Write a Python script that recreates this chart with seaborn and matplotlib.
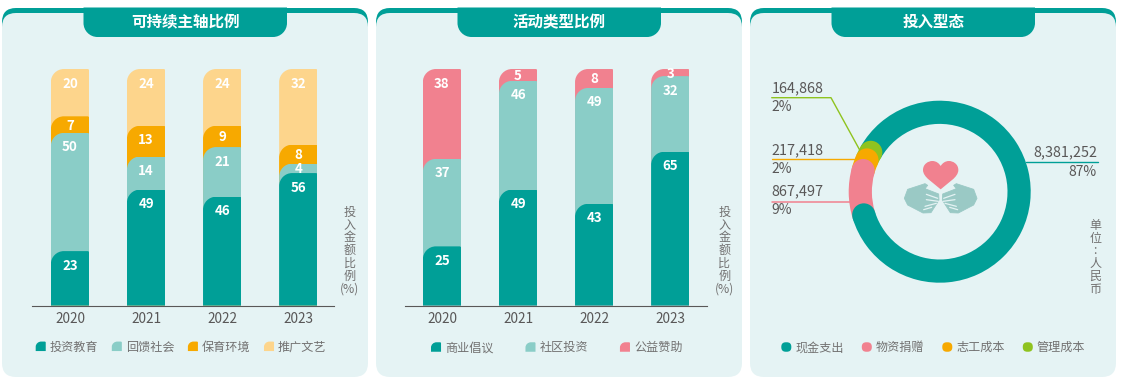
import numpy as np
import matplotlib
matplotlib.use("Agg")
import matplotlib.pyplot as plt
import seaborn as sns
from matplotlib.path import Path
from matplotlib.patches import PathPatch, FancyBboxPatch, Polygon, Circle
from matplotlib.legend_handler import HandlerPatch
from matplotlib.lines import Line2D

# ---------- data ----------
years = ["2020", "2021", "2022", "2023"]

focus_names = ["投资教育", "回馈社会", "保育环境", "推广文艺"]
focus_education = [23, 49, 46, 56]
focus_community = [50, 14, 21, 4]
focus_environment = [7, 13, 9, 8]
focus_culture = [20, 24, 24, 32]

activity_names = ["商业倡议", "社区投资", "公益赞助"]
activity_business = [25, 49, 43, 65]
activity_community = [37, 46, 49, 32]
activity_charity = [38, 5, 8, 3]

input_names = ["现金支出", "物资捐赠", "志工成本", "管理成本"]
input_values = [8381252, 867497, 217418, 164868]
input_shares = ["87%", "9%", "2%", "2%"]

titles = ["可持续主轴比例", "活动类型比例", "投入型态"]

# ---------- style ----------
TEAL = "#009F97"
MINT = "#8ACDC7"
ORANGE = "#F7A900"
YELLOW = "#FDD58C"
PINK = "#F1818F"
GREEN = "#8FC31F"
PANEL = "#E5F3F4"
DARK = "#595757"
GREY = "#727171"
FONT = ["Noto Sans CJK SC", "DejaVu Sans"]

sns.set_theme(style="white")
plt.rcParams["font.family"] = FONT
plt.rcParams["axes.unicode_minus"] = False

W, H = 1122, 383
fig = plt.figure(figsize=(W / 100, H / 100), dpi=100, facecolor="white")
bg = fig.add_axes([0, 0, 1, 1], zorder=0)
bg.set_xlim(0, W)
bg.set_ylim(H, 0)
bg.axis("off")


def axes_px(x0, y0, x1, y1, z=2):
    ax = fig.add_axes([x0 / W, 1 - y1 / H, (x1 - x0) / W, (y1 - y0) / H], zorder=z)
    ax.patch.set_visible(False)
    return ax


def tl_round(x0, y0, x1, y1, rx, ry, rx2, ry2):
    """Rectangle path with large top-left and tiny top-right corner (y up)."""
    k = 0.5523
    v = [(x0, y0), (x0, y1 - ry),
         (x0, y1 - ry + k * ry), (x0 + rx - k * rx, y1), (x0 + rx, y1),
         (x1 - rx2, y1),
         (x1 - rx2 + k * rx2, y1), (x1, y1 - ry2 + k * ry2), (x1, y1 - ry2),
         (x1, y0), (x0, y0)]
    c = [Path.MOVETO, Path.LINETO, Path.CURVE4, Path.CURVE4, Path.CURVE4, Path.LINETO,
         Path.CURVE4, Path.CURVE4, Path.CURVE4, Path.LINETO, Path.CLOSEPOLY]
    return Path(v, c)


def bar_handle(legend, orig_handle, xdescent, ydescent, width, height, fontsize):
    return PathPatch(tl_round(-xdescent, -ydescent, width - xdescent, height - ydescent,
                              width * .55, height * .55, width * .1, height * .1), lw=0)


def round_handle(legend, orig_handle, xdescent, ydescent, width, height, fontsize):
    return FancyBboxPatch((-xdescent + 2.4, -ydescent + 2.4), width - 4.8, height - 4.8,
                          boxstyle="round,pad=2.4,rounding_size=3.2", lw=0)


def add_legend(ax, names, colors, x, y, spacing, func):
    handles = [plt.Rectangle((0, 0), 1, 1, fc=c, lw=0) for c in colors]
    ax.legend(handles, names, ncols=len(names), loc="center left",
              bbox_to_anchor=(x, y), bbox_transform=bg.transData,
              frameon=False, borderaxespad=0, borderpad=0,
              fontsize=8.7, labelcolor=GREY,
              handlelength=0.83, handleheight=0.83, handletextpad=0.33,
              columnspacing=spacing / 12.1,
              handler_map={plt.Rectangle: HandlerPatch(patch_func=func)})


def panel(x0, title):
    bg.add_patch(FancyBboxPatch((x0 + 14, 8 + 14), 366 - 28, 30, boxstyle="round,pad=14,rounding_size=14",
                                fc=TEAL, lw=0))
    bg.add_patch(FancyBboxPatch((x0 + 14, 13 + 14), 366 - 28, 364 - 28, boxstyle="round,pad=14,rounding_size=14",
                                fc=PANEL, lw=0))
    # title tab
    tx0, tx1 = x0 + 81.5, x0 + 285
    r = 14
    k = 0.5523
    v = [(tx0, 7.5), (tx1, 7.5), (tx1, 37 - r), (tx1, 37 - r + k * r), (tx1 - r + k * r, 37), (tx1 - r, 37),
         (tx0 + r, 37), (tx0 + r - k * r, 37), (tx0, 37 - r + k * r), (tx0, 37 - r), (tx0, 7.5)]
    c = [Path.MOVETO, Path.LINETO, Path.LINETO, Path.CURVE4, Path.CURVE4, Path.CURVE4,
         Path.LINETO, Path.CURVE4, Path.CURVE4, Path.CURVE4, Path.CLOSEPOLY]
    bg.add_patch(PathPatch(Path(v, c), fc=TEAL, lw=0))
    bg.text((tx0 + tx1) / 2, 22, title, color="white", fontsize=11.2, fontweight="bold",
            ha="center", va="center")


def vertical(x, y, s, **kw):
    bg.text(x, y, s, ha="center", va="top", color=GREY, fontsize=8.7, linespacing=0.97, **kw)


PX_PER_UNIT = 2.36
BASE_Y = 305
TOP_Y = 55


def stacked(x0, x1, center0, spacing, series, colors):
    ax = axes_px(x0, TOP_Y, x1, BASE_Y + 0.5)
    tops = np.cumsum(np.array(series), axis=0)
    bw = 38.3 / spacing
    for level in range(len(series) - 1, -1, -1):
        sns.barplot(x=years, y=tops[level], color=colors[level], saturation=1,
                    width=bw, errorbar=None, ax=ax, linewidth=0)
    ax.set_xlim((x0 - center0) / spacing, (x1 - center0) / spacing)
    ax.set_ylim(0, (BASE_Y - TOP_Y) / PX_PER_UNIT)
    px_x = 1 / spacing
    px_y = 1 / PX_PER_UNIT
    for rect in ax.patches:
        p = tl_round(rect.get_x(), 0, rect.get_x() + rect.get_width(), rect.get_height(),
                     13 * px_x, 13 * px_y, 1.5 * px_x, 1.5 * px_y)
        rect.set_clip_path(p, ax.transData)
    for level, vals in enumerate(series):
        for i, val in enumerate(vals):
            off_px = min(14.5, val * PX_PER_UNIT / 2 + 1)
            ax.annotate(str(val), (i, tops[level][i]), xytext=(0, -off_px * 0.72),
                        textcoords="offset points", ha="center", va="center",
                        color="white", fontsize=9.6, fontweight="bold")
    sns.despine(ax=ax, left=True)
    ax.spines["bottom"].set_color(DARK)
    ax.spines["bottom"].set_linewidth(0.8)
    ax.set_yticks([])
    ax.set_xlabel("")
    ax.set_ylabel("")
    ax.tick_params(axis="x", length=0, pad=4.5, labelsize=9.8, labelcolor=DARK)
    return ax


# ---------- panels ----------
panel(2, titles[0])
panel(376, titles[1])
panel(750, titles[2])

ax1 = stacked(32, 333.7, 70, 76.1,
              [focus_education, focus_community, focus_environment, focus_culture],
              [TEAL, MINT, ORANGE, YELLOW])
add_legend(ax1, focus_names, [TEAL, MINT, ORANGE, YELLOW], 35.7, 347, 13.6, bar_handle)
vertical(350, 206, "投\n入\n金\n额\n比\n例\n(%)")

ax2 = stacked(405, 706.7, 442, 76.1,
              [activity_business, activity_community, activity_charity],
              [TEAL, MINT, PINK])
add_legend(ax2, activity_names, [TEAL, MINT, PINK], 431, 347.7, 32, bar_handle)
vertical(724.5, 206, "投\n入\n金\n额\n比\n例\n(%)")

# ---------- donut ----------
CX, CY, R_OUT, R_IN = 939.7, 191.7, 91, 67.8
ax3 = axes_px(CX - 100, CY - 100, CX + 100, CY + 100, z=3)
donut_colors = [TEAL, PINK, ORANGE, GREEN]
wedges, _ = ax3.pie(input_values, colors=donut_colors, startangle=150.3, counterclock=False,
                    radius=1, wedgeprops=dict(width=(R_OUT - R_IN) / R_OUT, linewidth=0))
ax3.set_xlim(-100 / R_OUT, 100 / R_OUT)
ax3.set_ylim(-100 / R_OUT, 100 / R_OUT)
ax3.set_aspect("equal")
mid = (R_OUT + R_IN) / 2 / R_OUT
cap = (R_OUT - R_IN) / 2 / R_OUT
order_z = [1, 4, 3, 2]
for w, z, col in zip(wedges, order_z, donut_colors):
    w.set_zorder(z)
    a = np.deg2rad(w.theta1)
    ax3.add_patch(Circle((mid * np.cos(a), mid * np.sin(a)), cap, fc=col, lw=0,
                         zorder=5 if col == TEAL else z))
add_legend(ax3, input_names, donut_colors, 781.3, 347.7, 18, round_handle)

# leader lines
bg.add_line(Line2D([771.7, 831, 859.7], [97.7, 97.7, 150], color=GREEN, lw=1))
bg.add_line(Line2D([771.7, 855], [159.3, 159.3], color=ORANGE, lw=1))
bg.add_line(Line2D([771.7, 850], [201.5, 201.5], color=PINK, lw=1.1))
bg.add_line(Line2D([1026, 1098], [162.3, 162.3], color=TEAL, lw=1))


def callout(x, y1, y2, value, share, ha="left"):
    bg.text(x, y1, f"{value:,}", color=DARK, fontsize=10.4, ha=ha, va="center")
    bg.text(x, y2, share, color=DARK, fontsize=10, ha=ha, va="center")


callout(771.7, 88, 106.7, input_values[3], input_shares[3])
callout(771.7, 150.3, 168.7, input_values[2], input_shares[2])
callout(771.7, 191, 210.3, input_values[1], input_shares[1])
callout(1097, 152, 171.7, input_values[0], input_shares[0], ha="right")

vertical(1095.3, 219, "单\n位\n:\n人\n民\n币")

# ---------- centre icon (decoration) ----------
HAND = "#9AC9C5"


def icon(px, py):
    return 895 + px / 3, 150 + py / 3


heart_v = [(137, 118), (115, 98), (84, 82), (84, 60), (84, 42), (100, 33), (112, 33),
           (124, 33), (132, 40), (137, 48), (142, 40), (150, 33), (162, 33),
           (174, 33), (190, 42), (190, 60), (190, 82), (159, 98), (137, 118), (137, 118)]
heart_c = [Path.MOVETO] + [Path.CURVE4] * 18 + [Path.CLOSEPOLY]
bg.add_patch(PathPatch(Path([icon(*p) for p in heart_v], heart_c), fc=PINK, lw=0))

hand_left = [(28, 145), (38, 118), (90, 101), (98, 106), (90, 116), (131, 132), (132, 150),
             (124, 163), (108, 188), (84, 189), (38, 165)]
gaps = [[(94, 133), (128, 145)], [(94, 149), (130, 154)], [(90, 169), (124, 160)], [(86, 179), (110, 172)]]
for sign in (1, -1):
    tr = (lambda p: icon(p[0] if sign == 1 else 274 - p[0], p[1]))
    bg.add_patch(Polygon([tr(p) for p in hand_left], closed=True, fc=HAND, ec=HAND, lw=0.6, joinstyle="round"))
    for g in gaps:
        a, b = tr(g[0]), tr(g[1])
        bg.add_line(Line2D([a[0], b[0]], [a[1], b[1]], color=PANEL, lw=0.9))

fig.savefig("out.png", dpi=100, facecolor="white")
